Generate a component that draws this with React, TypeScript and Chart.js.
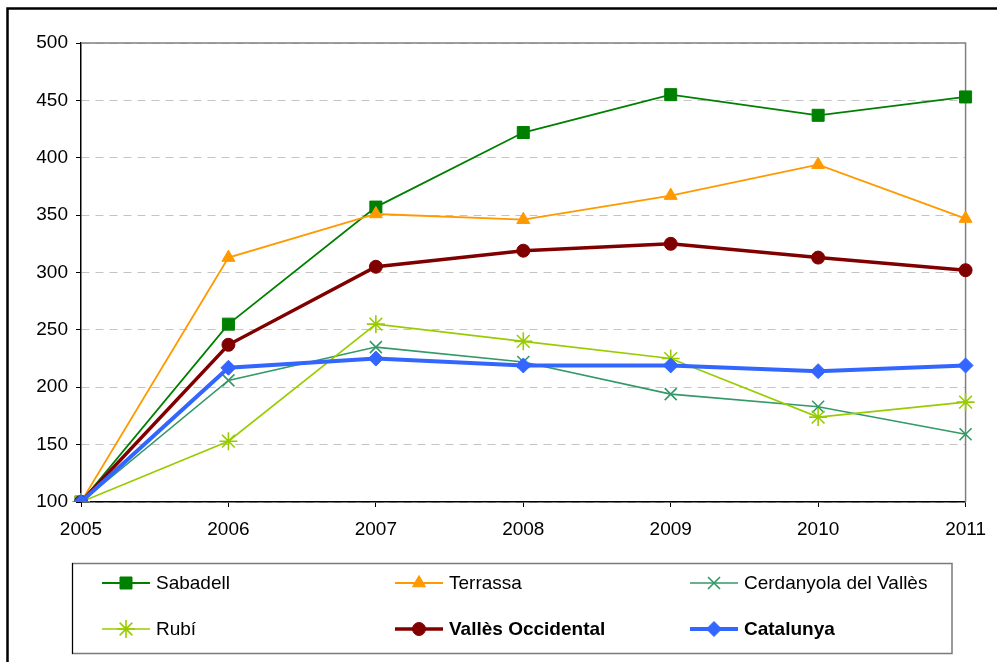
import React, { useEffect, useRef } from 'react';
import { Chart, registerables } from 'chart.js';
import { drawPoint } from 'chart.js/helpers';

Chart.register(...registerables);

const years = ['2005', '2006', '2007', '2008', '2009', '2010', '2011'];
const sabadell = [100, 255, 357, 422, 455, 437, 453];
const terrassa = [100, 313, 351, 346, 367, 394, 347];
const cerdanyola = [100, 206, 235, 222, 194, 183, 159];
const rubi = [100, 153, 255, 240, 225, 174, 187];
const vallesOccidental = [100, 237, 305, 319, 325, 313, 302];
const catalunya = [100, 217, 225, 219, 219, 214, 219];
const seriesNames = ['Sabadell', 'Terrassa', 'Cerdanyola del Vallès', 'Rubí', 'Vallès Occidental', 'Catalunya'];
const yMin = 100;
const yMax = 500;
const yStep = 50;

const FONT = '"Liberation Sans", Arial, sans-serif';

const framePlugin = {
  id: 'frame',
  beforeDatasetsDraw(chart: any) {
    const { ctx, chartArea } = chart;
    ctx.save();
    ctx.strokeStyle = '#808080';
    ctx.lineWidth = 1.5;
    ctx.beginPath();
    ctx.moveTo(chartArea.left, chartArea.top);
    ctx.lineTo(chartArea.right, chartArea.top);
    ctx.lineTo(chartArea.right, chartArea.bottom);
    ctx.stroke();
    ctx.restore();
  },
  afterDraw(chart: any) {
    const { ctx } = chart;
    ctx.save();
    // outer chart border
    ctx.strokeStyle = '#000';
    ctx.lineWidth = 2.5;
    ctx.strokeRect(7.5, 8.5, 1010, 680);
    // legend box
    ctx.strokeStyle = '#7a7a7a';
    ctx.lineWidth = 1.5;
    ctx.strokeRect(72.5, 563.5, 879.5, 90);
    ctx.strokeStyle = '#000';
    ctx.lineWidth = 1;
    ctx.beginPath();
    ctx.moveTo(72.5, 563);
    ctx.lineTo(72.5, 654);
    ctx.stroke();

    const colX = [102, 395, 690];
    const rowY = [583, 629];
    chart.data.datasets.forEach((ds: any, i: number) => {
      const col = i % 3;
      const row = Math.floor(i / 3);
      const x0 = colX[col];
      const y = rowY[row];
      ctx.strokeStyle = ds.borderColor;
      ctx.lineWidth = ds.borderWidth;
      ctx.beginPath();
      ctx.moveTo(x0, y);
      ctx.lineTo(x0 + 48, y);
      ctx.stroke();
      ctx.fillStyle = ds.pointBackgroundColor;
      ctx.strokeStyle = ds.pointBorderColor;
      ctx.lineWidth = ds.pointBorderWidth;
      drawPoint(ctx, { pointStyle: ds.pointStyle, rotation: 0, radius: ds.pointRadius, borderWidth: ds.pointBorderWidth } as any, x0 + 24, y);
      ctx.fillStyle = '#000';
      ctx.font = (ds.legendBold ? 'bold ' : '') + '19px ' + FONT;
      ctx.textAlign = 'left';
      ctx.textBaseline = 'middle';
      ctx.fillText(ds.label, x0 + 54, y + 1);
    });
    ctx.restore();
  },
};

function makeDataset(label: string, data: number[], color: string, lineWidth: number, style: string, radius: number, fill: boolean, order: number, bold: boolean) {
  return {
    label,
    data,
    borderColor: color,
    backgroundColor: color,
    borderWidth: lineWidth,
    pointStyle: style,
    pointRadius: radius,
    pointBackgroundColor: fill ? color : 'rgba(0,0,0,0)',
    pointBorderColor: color,
    pointBorderWidth: fill ? 1 : 1.6,
    tension: 0,
    order,
    legendBold: bold,
  };
}

export default function App() {
  const ref = useRef<HTMLCanvasElement>(null);
  useEffect(() => {
    if (!ref.current) return;
    const datasets = [
      makeDataset(seriesNames[0], sabadell, '#008000', 1.8, 'rect', 8.5, true, 6, false),
      makeDataset(seriesNames[1], terrassa, '#FF9900', 1.8, 'triangle', 7.5, true, 5, false),
      makeDataset(seriesNames[2], cerdanyola, '#339966', 1.6, 'crossRot', 8.5, false, 4, false),
      makeDataset(seriesNames[3], rubi, '#99CC00', 1.6, 'star', 9, false, 3, false),
      makeDataset(seriesNames[4], vallesOccidental, '#800000', 3.5, 'circle', 6.5, true, 2, true),
      makeDataset(seriesNames[5], catalunya, '#3366FF', 4, 'rectRot', 7.5, true, 1, true),
    ];
    const chart = new Chart(ref.current, {
      type: 'line',
      data: { labels: years, datasets: datasets as any },
      options: {
        animation: false,
        responsive: false,
        maintainAspectRatio: false,
        layout: { padding: { left: 0, top: 43, right: 30, bottom: 120 } },
        plugins: { legend: { display: false }, tooltip: { enabled: false } },
        scales: {
          x: {
            offset: false,
            grid: { drawOnChartArea: false, tickLength: 5, tickColor: '#000', tickWidth: 1 },
            border: { color: '#000', width: 1.5 },
            ticks: { color: '#000', font: { family: FONT, size: 19 }, padding: 11, maxRotation: 0, autoSkip: false },
            afterFit(scale: any) { scale.height = 40; },
          },
          y: {
            min: yMin,
            max: yMax,
            grid: { color: '#c4c4c4', lineWidth: 1, tickLength: 5, tickColor: '#000', tickWidth: 1, tickBorderDash: [] },
            border: { color: '#000', width: 1.5, dash: [8, 6] },
            ticks: { stepSize: yStep, color: '#000', font: { family: FONT, size: 19 }, padding: 8 },
            afterFit(scale: any) { scale.width = 81; },
          },
        },
      },
      plugins: [framePlugin],
    });
    return () => chart.destroy();
  }, []);
  return (
    <div style={{ position: 'absolute', left: 0, top: 0, width: 997, height: 662, background: '#fff' }}>
      <canvas ref={ref} width={997} height={662} style={{ display: 'block', width: 997, height: 662 }} />
    </div>
  );
}
